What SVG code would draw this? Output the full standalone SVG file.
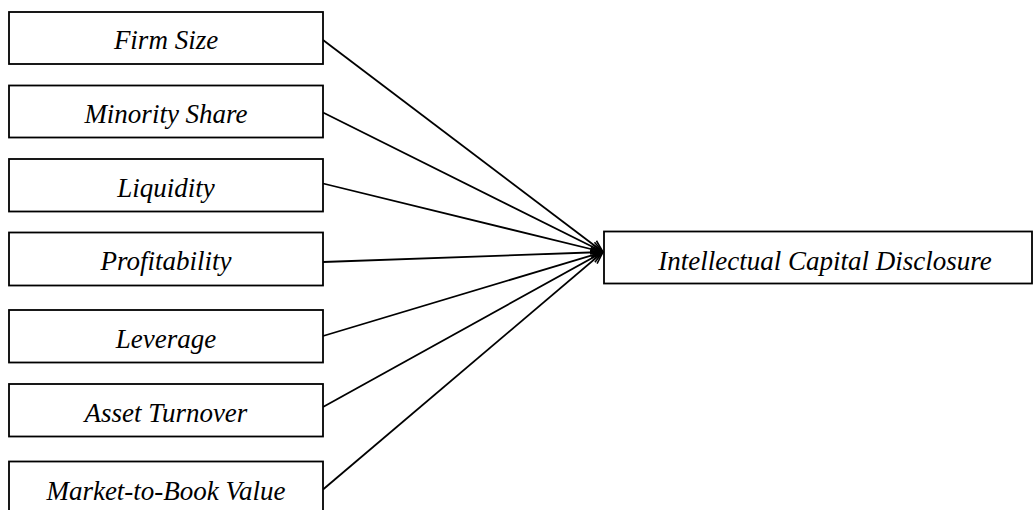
<svg xmlns="http://www.w3.org/2000/svg" width="1033" height="510" viewBox="0 0 1033 510">
<defs>
<style>
.box{fill:#fff;stroke:#000;stroke-width:1.8}
.lbl{font-family:"Liberation Serif","Times New Roman",serif;font-style:italic;font-size:27px;fill:#000;text-anchor:middle}
.edge{stroke:#000;stroke-width:1.8;fill:none;marker-end:url(#arr)}
</style>
<marker id="arr" viewBox="0 0 14 12" refX="13" refY="6" markerWidth="14" markerHeight="12" markerUnits="userSpaceOnUse" orient="auto">
<path d="M1,1 L13,6 L1,11" fill="none" stroke="#000" stroke-width="1.6"/>
</marker>
</defs>
<g id="connectors">
<line class="edge" x1="323" y1="40" x2="603" y2="252"/>
<line class="edge" x1="323" y1="112.5" x2="603" y2="252"/>
<line class="edge" x1="323" y1="183.5" x2="603" y2="252"/>
<line class="edge" x1="323" y1="262" x2="603" y2="252"/>
<line class="edge" x1="323" y1="336" x2="603" y2="252"/>
<line class="edge" x1="323" y1="407" x2="603" y2="252"/>
<line class="edge" x1="323" y1="489.5" x2="603" y2="252"/>
</g>
<g id="firm-size"><rect class="box" x="9" y="12" width="314" height="52"/><text class="lbl" x="166" y="48.5">Firm Size</text></g>
<g id="minority-share"><rect class="box" x="9" y="85.5" width="314" height="52"/><text class="lbl" x="166" y="122.5">Minority Share</text></g>
<g id="liquidity"><rect class="box" x="9" y="159" width="314" height="52.5"/><text class="lbl" x="166" y="196.5">Liquidity</text></g>
<g id="profitability"><rect class="box" x="9" y="232.5" width="314" height="53"/><text class="lbl" x="166" y="270">Profitability</text></g>
<g id="leverage"><rect class="box" x="9" y="310" width="314" height="52.5"/><text class="lbl" x="166" y="347.5">Leverage</text></g>
<g id="asset-turnover"><rect class="box" x="9" y="384" width="314" height="52.5"/><text class="lbl" x="166" y="421.5">Asset Turnover</text></g>
<g id="market-to-book"><rect class="box" x="9" y="461.5" width="314" height="60"/><text class="lbl" x="166" y="499.5">Market-to-Book Value</text></g>
<g id="icd"><rect class="box" x="604" y="231.5" width="428" height="52"/><text class="lbl" x="825" y="269.5">Intellectual Capital Disclosure</text></g>
</svg>
